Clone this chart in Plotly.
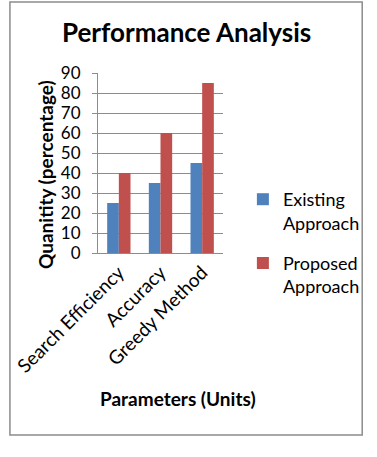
import plotly.graph_objects as go

categories = ["Search Efficiency", "Accuracy", "Greedy Method"]
existing = [25, 35, 45]
proposed = [40, 60, 85]
series_names = ["Existing<br>Approach", "Proposed<br>Approach"]
y_ticks = [0, 10, 20, 30, 40, 50, 60, 70, 80, 90]

FONT = "Lato"
W, H = 377, 457
L, R, T, B = 96, 377 - 228, 73, 457 - 253
pw, ph = W - L - R, H - T - B

def px(x):
    return (x - L) / pw

def py(y):
    return (H - B - y) / ph

fig = go.Figure()
fig.add_trace(go.Bar(x=categories, y=existing, name=series_names[0], legendgroup="g1",
                     marker=dict(color="#4F81BD", line=dict(width=0))))
fig.add_trace(go.Bar(x=categories, y=proposed, name=series_names[1], legendgroup="g2",
                     marker=dict(color="#C0504D", line=dict(width=0))))

fig.update_layout(
    width=W, height=H,
    margin=dict(l=L, r=R, t=T, b=B, pad=0),
    paper_bgcolor="white", plot_bgcolor="white",
    barmode="group", bargap=0.44, bargroupgap=0,
    font=dict(family=FONT, color="black", size=18),
    showlegend=True,
    legend=dict(x=px(249), y=py(181), xanchor="left", yanchor="top",
                font=dict(family=FONT, size=18, color="black"), valign="top",
                itemwidth=30, tracegroupgap=14, bgcolor="rgba(0,0,0,0)"),
    xaxis=dict(showgrid=False, showline=True, linecolor="#8c8c8c", linewidth=1,
               tickangle=-45, ticks="", tickfont=dict(family=FONT, size=19),
               range=[-0.5, 2.5]),
    yaxis=dict(range=[0, 90], tickvals=y_ticks, showgrid=True, gridcolor="#8c8c8c",
               gridwidth=1, showline=True, linecolor="#8c8c8c", linewidth=1,
               ticks="outside", ticklen=5, tickcolor="#8c8c8c", ticklabelstandoff=8,
               tickfont=dict(family=FONT, size=17), zeroline=False),
    annotations=[
        dict(text="<b>Performance Analysis</b>", x=px(189), y=py(32), xref="paper", yref="paper",
             showarrow=False, font=dict(family=FONT, size=26), xanchor="center", yanchor="middle"),
        dict(text="<b>Quanitity (percentage)</b>", x=px(40), y=py(174), xref="paper", yref="paper",
             showarrow=False, textangle=-90, font=dict(family=FONT, size=19),
             xanchor="center", yanchor="middle"),
        dict(text="<b>Parameters (Units)</b>", x=px(181), y=py(398), xref="paper", yref="paper",
             showarrow=False, font=dict(family=FONT, size=19), xanchor="center", yanchor="middle"),
    ],
    shapes=[
        dict(type="rect", xref="paper", yref="paper", x0=px(3), x1=px(375), y0=py(435), y1=py(2),
             line=dict(color="#8c8c8c", width=1.5), fillcolor="rgba(0,0,0,0)", layer="below"),
    ],
)

fig.write_html("out.html")
